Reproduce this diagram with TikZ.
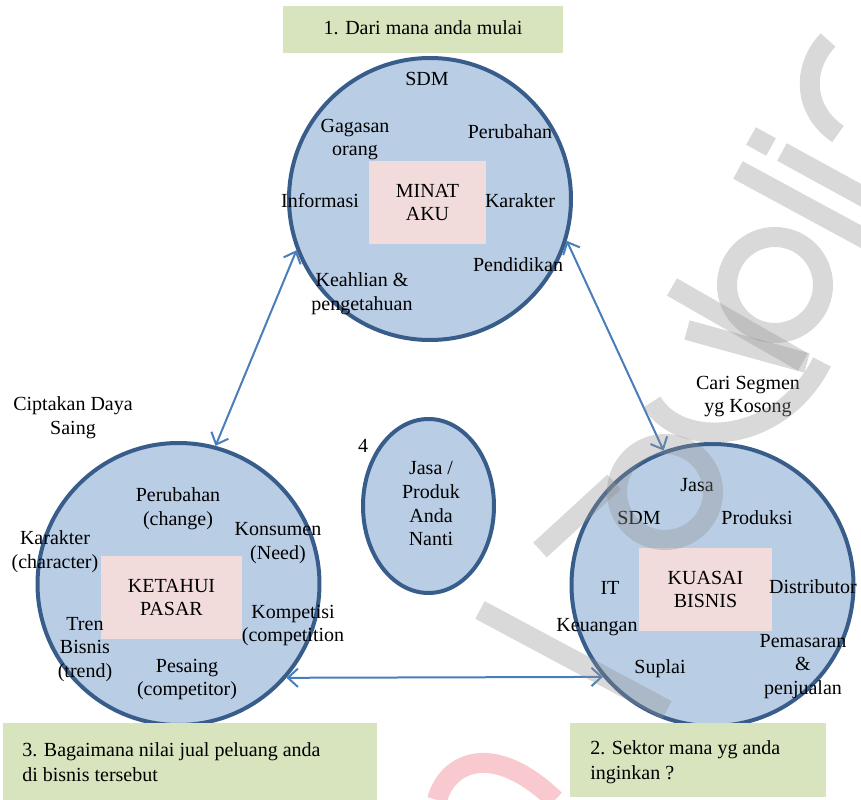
\documentclass[tikz,border=0pt]{standalone}
\usepackage{fontspec}
\setmainfont{Liberation Serif}
\usetikzlibrary{shapes.geometric,arrows.meta}

\definecolor{circfill}{HTML}{B9CDE5}
\definecolor{circline}{HTML}{385D8A}
\definecolor{corepink}{HTML}{F2DCDB}
\definecolor{stepgreen}{HTML}{D7E4BD}
\definecolor{linkblue}{HTML}{4A7EBB}
\definecolor{markred}{HTML}{F08A94}

\tikzset{
  lbl/.style={font=\fontsize{12}{14.2}\selectfont, align=center, inner sep=0pt},
  bigcirc/.style={circle, draw=circline, fill=circfill, line width=2.4pt,
                  minimum size=169.2pt, inner sep=0pt},
  core/.style={lbl, fill=corepink, minimum height=49.8pt},
  greenbox/.style={fill=stepgreen, inner sep=0pt},
  stepnote/.style={font=\fontsize{12}{15}\selectfont, align=left, inner sep=0pt, anchor=west},
  link/.style={draw=linkblue, line width=1.2pt,
               {Straight Barb[length=6pt,width=11pt]}-{Straight Barb[length=6pt,width=11pt]}},
  wmark/.style={draw=black!43, draw opacity=0.35, line width=12pt, line cap=butt},
  wmarkred/.style={draw=markred, draw opacity=0.45, line width=12pt, line cap=butt}
}

\begin{document}
\begin{tikzpicture}[x=0.6pt,y=-0.6pt]
\useasboundingbox (0,0) rectangle (861,800);

% ---- step labels ----
\node[greenbox, minimum width=168pt, minimum height=28.2pt] (s1) at (423,29.5) {};
\node[lbl] (s1t) at (423,28) {1. Dari mana anda mulai};

% ---- the three main circles and the centre ellipse ----
\node[bigcirc] (T) at (430,199) {};
\node[bigcirc] (L) at (178.5,584) {};
\node[bigcirc] (R) at (712.5,585) {};
\node[ellipse, draw=circline, fill=circfill, line width=2.4pt, inner sep=0pt,
      minimum width=78.6pt, minimum height=104.4pt] (E) at (428.5,506) {};

% ---- top circle: MINAT AKU ----
\node[core, minimum width=70.2pt] (Tc) at (427.5,202.5) {MINAT\\AKU};
\node[lbl] (t1) at (427,79) {SDM};
\node[lbl] (t2) at (355,139.5) {Gagasan\\orang};
\node[lbl] (t3) at (510,132) {Perubahan};
\node[lbl] (t4) at (320,201) {Informasi};
\node[lbl] (t5) at (520,201) {Karakter};
\node[lbl] (t6) at (518,265) {Pendidikan};
\node[lbl] (t7) at (362,293.5) {Keahlian \&\\pengetahuan};

% ---- left circle: KETAHUI PASAR ----
\node[core, minimum width=84.6pt] (Lc) at (171.5,597.5) {KETAHUI\\PASAR};
\node[lbl] (l0) at (73,418) {Ciptakan Daya\\Saing};
\node[lbl] (l1) at (178,508.5) {Perubahan\\(change)};
\node[lbl] (l2) at (278,543) {Konsumen\\(Need)};
\node[lbl] (l3) at (55,551.5) {Karakter\\(character)};
\node[lbl] (l4) at (293,625.5) {Kompetisi\\(competition};
\node[lbl] (l5) at (85,649.5) {Tren\\Bisnis\\(trend)};
\node[lbl] (l6) at (187,679.5) {Pesaing\\(competitor)};

% ---- right circle: KUASAI BISNIS ----
\node[core, minimum width=79.8pt] (Rc) at (705.5,589.5) {KUASAI\\BISNIS};
\node[lbl] (r0) at (748,396.5) {Cari Segmen\\yg Kosong};
\node[lbl] (r1) at (697,485) {Jasa};
\node[lbl] (r2) at (639,518) {SDM};
\node[lbl] (r3) at (757,518) {Produksi};
\node[lbl] (r4) at (610,588) {IT};
\node[lbl] (r5) at (813,587) {Distributor};
\node[lbl] (r6) at (597,627) {Keuangan};
\node[lbl] (r7) at (803,666.5) {Pemasaran\\\&\\penjualan};
\node[lbl] (r8) at (660,669) {Suplai};

% ---- centre ellipse ----
\node[lbl] (e1) at (431,504) {Jasa /\\Produk\\Anda\\Nanti};
\node[lbl] (e0) at (363,446) {4};

% ---- connectors ----
\draw[link] (T.201) -- (L.75);
\draw[link] (T.343) -- (R.110);
\draw[link] (L.-41) -- (R.220);

% ---- bottom step labels ----
\node[greenbox, minimum width=224.4pt, minimum height=46.2pt] (s3) at (190,761.5) {};
\node[stepnote] (s3t) at (22,762) {3. Bagaimana nilai jual peluang anda\\di bisnis tersebut};
\node[greenbox, minimum width=153.6pt, minimum height=44.4pt] (s2) at (698,760) {};
\node[stepnote] (s2t) at (590,762) {2. Sektor mana yg anda\\inginkan ?};

% ---- faint slanted lettering across the right half ----
\begin{scope}
  \clip (0,0) rectangle (861,800);
  \draw[wmark] (480,610) -- (667,710);
  \draw[wmark] (665,492) circle[radius=48];
  \draw[wmark] (540,550) -- (614,482);
  \draw[wmark] (687,330) -- (807,363);
  \draw[wmark] (652,402) .. controls (680,450) and (780,445) .. (822,362);
  \draw[wmark] (672,287) -- (803,362);
  \draw[wmark] (775,285) circle[radius=48];
  \draw[wmark] (738,170) -- (869,241);
  \draw[wmark] (751,136) -- (771,147);
  \draw[wmark] (782,152) -- (886,209);
  \draw[wmark] (828,40) .. controls (800,70) and (805,112) .. (838,134);
  \draw[wmarkred] (437,800) .. controls (448,760) and (495,742) .. (555,800);
\end{scope}
\end{tikzpicture}
\end{document}
